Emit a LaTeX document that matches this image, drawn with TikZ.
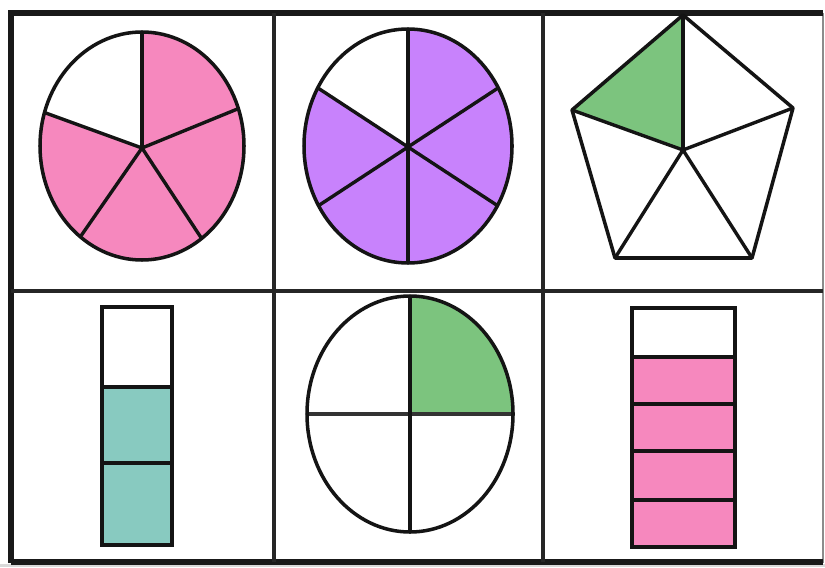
\documentclass[tikz,border=0pt]{standalone}
\begin{document}
\begin{tikzpicture}[x=0.03cm,y=-0.03cm,
  frame/.style={line width=5pt,draw=black!90},
  grid/.style={line width=3.4pt,draw=black!85},
  outline/.style={line width=3pt,draw=black!92},
  spoke/.style={line width=2.9pt,draw=black!92},
  barline/.style={line width=3.6pt,draw=black!92}]
\definecolor{pinkfill}{RGB}{246,136,190}
\definecolor{purplefill}{RGB}{200,130,252}
\definecolor{greenfill}{RGB}{124,196,126}
\definecolor{tealfill}{RGB}{136,202,192}
\useasboundingbox (0,0) rectangle (825,567);
\fill[white] (0,0) rectangle (825,567);
\fill[black!15] (0,564) rectangle (825,567);
% grid
\draw[line width=1.2pt,draw=black!45] (823,13) -- (823,563);
\draw[frame] (11,563) -- (11,13) -- (823,13);
\draw[frame] (11,562) -- (823,562);
\draw[grid] (274,13) -- (274,562);
\draw[grid] (543,13) -- (543,562);
\draw[grid] (11,291) -- (823,291);
% cell 1: pie with 5 parts, 4 pink
\begin{scope}
  \clip (142,146) ellipse [x radius=102, y radius=114];
  \fill[pinkfill] (0,0) rectangle (300,300);
  \fill[white] (142,148) -- (142,-100) -- (-155,-100) -- (-155,40) -- cycle;
  \draw[spoke] (142,148) -- (142,-100);
  \draw[spoke] (142,148) -- (421,34);
  \draw[spoke] (142,148) -- (310,403);
  \draw[spoke] (142,148) -- (-35,403);
  \draw[spoke] (142,148) -- (-155,40);
\end{scope}
\draw[outline] (142,146) ellipse [x radius=102, y radius=114];
% cell 2: pie with 6 parts, 5 purple
\begin{scope}
  \clip (408,146) ellipse [x radius=104, y radius=117];
  \fill[purplefill] (280,0) rectangle (540,300);
  \fill[white] (408,147) -- (408,-100) -- (147,-100) -- (147,-24) -- cycle;
  \draw[spoke] (408,-100) -- (408,400);
  \draw[spoke] (147,-24) -- (669,318);
  \draw[spoke] (669,-24) -- (147,318);
\end{scope}
\draw[outline] (408,146) ellipse [x radius=104, y radius=117];
% cell 3: pentagon with 5 triangles, 1 green
\coordinate (pT) at (683,15);
\coordinate (pL) at (572,110);
\coordinate (pR) at (793,108);
\coordinate (pBL) at (615,258);
\coordinate (pBR) at (752,258);
\coordinate (pC) at (683,150);
\fill[greenfill] (pT) -- (pL) -- (pC) -- cycle;
\draw[outline,line join=round] (pT) -- (pR) -- (pBR) -- (pBL) -- (pL) -- cycle;
\draw[spoke] (pC) -- (pT);
\draw[spoke] (pC) -- (pL);
\draw[spoke] (pC) -- (pR);
\draw[spoke] (pC) -- (pBL);
\draw[spoke] (pC) -- (pBR);
% cell 4: bar of 3, 2 teal
\fill[tealfill] (102,387) rectangle (172,545);
\draw[barline] (102,387) -- (172,387);
\draw[barline] (102,463) -- (172,463);
\draw[barline] (102,307) rectangle (172,545);
% cell 5: circle in quarters, 1 green
\begin{scope}
  \clip (410,414) ellipse [x radius=103, y radius=118];
  \fill[greenfill] (410,414) rectangle (540,280);
\end{scope}
\draw[spoke,draw=black!80,line width=3.3pt] (307,414) -- (513,414);
\draw[spoke] (410,296) -- (410,532);
\draw[outline] (410,414) ellipse [x radius=103, y radius=118];
% cell 6: bar of 5, 4 pink
\fill[pinkfill] (632,357) rectangle (735,547);
\draw[barline] (632,357) -- (735,357);
\draw[barline] (632,404) -- (735,404);
\draw[barline] (632,451) -- (735,451);
\draw[barline] (632,500) -- (735,500);
\draw[barline] (632,308) rectangle (735,547);
\end{tikzpicture}
\end{document}
